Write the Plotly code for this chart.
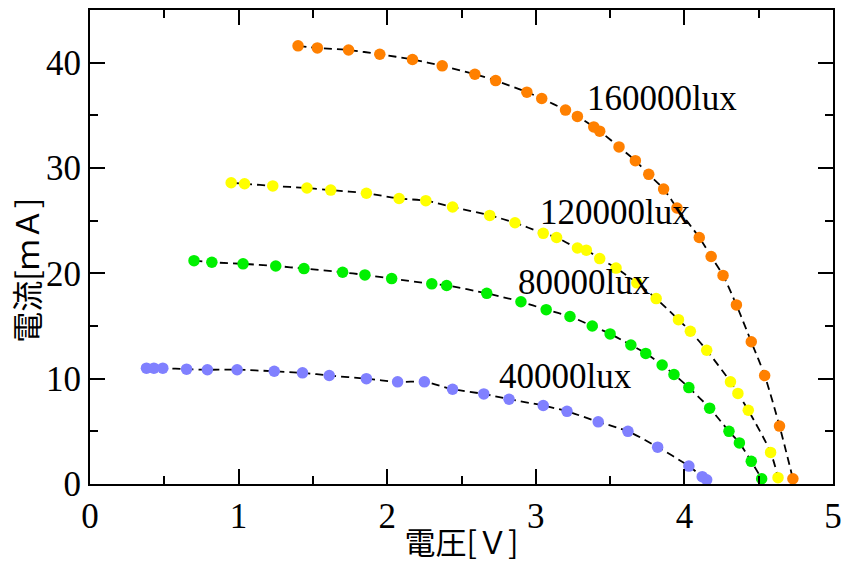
import plotly.graph_objects as go

# ---- data ----
v_160k = [1.40,1.53,1.74,1.95,2.17,2.37,2.59,2.73,2.94,3.04,3.20,3.28,3.39,3.43,3.56,3.67,3.76,3.86,3.95,4.10,4.18,4.26,4.35,4.45,4.54,4.64,4.73]
i_160k = [41.6,41.4,41.2,40.8,40.3,39.7,38.9,38.3,37.2,36.6,35.5,34.9,33.9,33.5,32.0,30.7,29.4,28.0,26.2,23.4,21.6,19.8,17.0,13.5,10.3,5.5,0.5]

v_120k = [0.95,1.04,1.23,1.46,1.62,1.86,2.08,2.26,2.44,2.69,2.86,3.05,3.14,3.28,3.34,3.43,3.54,3.68,3.81,3.96,4.04,4.15,4.31,4.36,4.43,4.58,4.63]
i_120k = [28.6,28.5,28.3,28.1,27.9,27.6,27.1,26.9,26.3,25.5,24.8,23.8,23.4,22.4,22.2,21.4,20.5,19.1,17.6,15.6,14.5,12.7,9.7,8.6,7.0,3.0,0.6]

v_80k = [0.70,0.82,1.03,1.25,1.44,1.70,1.85,2.03,2.30,2.40,2.67,2.90,3.07,3.23,3.38,3.50,3.64,3.74,3.85,3.93,4.03,4.17,4.30,4.37,4.45,4.52]
i_80k = [21.2,21.05,20.9,20.7,20.45,20.1,19.85,19.5,19.0,18.85,18.1,17.3,16.55,15.9,15.0,14.25,13.2,12.4,11.3,10.4,9.15,7.2,5.0,3.9,2.15,0.5]

v_40k = [0.38,0.43,0.49,0.65,0.79,0.99,1.24,1.43,1.61,1.86,2.07,2.25,2.44,2.65,2.82,3.05,3.21,3.42,3.62,3.82,4.03,4.12,4.15]
i_40k = [11.0,11.0,11.0,10.9,10.85,10.85,10.7,10.55,10.3,10.0,9.7,9.7,9.0,8.55,8.05,7.45,6.9,5.9,5.0,3.5,1.7,0.7,0.4]

series_names = ["160000lux", "120000lux", "80000lux", "40000lux"]
series_v = [v_160k, v_120k, v_80k, v_40k]
series_i = [i_160k, i_120k, i_80k, i_40k]
series_colors = ["#FF8000", "#FFFF00", "#00F000", "#8080FF"]
label_x = [3.85, 3.53, 3.33, 3.20]
label_y = [36.6, 25.8, 19.1, 10.2]

x_title = "電圧[Ｖ]"
y_title = "電流[ｍＡ]"

fig = go.Figure()

for v, i in zip(series_v, series_i):
    fig.add_trace(go.Scatter(x=v, y=i, mode="lines",
                             line=dict(color="black", width=1.8, dash="8px,5px", shape="spline", smoothing=0.8),
                             showlegend=False, hoverinfo="skip"))
for v, i, c in zip(series_v, series_i, series_colors):
    fig.add_trace(go.Scatter(x=v, y=i, mode="markers",
                             marker=dict(color=c, size=11.5, line=dict(width=0)),
                             showlegend=False))

for name, lx, ly in zip(series_names, label_x, label_y):
    fig.add_annotation(x=lx, y=ly, text=name, showarrow=False,
                       font=dict(family="Liberation Serif", size=35, color="black"))

# y-axis title as rotated text, placed slightly below the plot centre like the reference
fig.add_annotation(x=-0.086, xref="paper", y=0.45, yref="paper", text=y_title, textangle=-90,
                   showarrow=False, xanchor="center", yanchor="middle",
                   font=dict(family="Noto Sans CJK JP", size=31, color="black"))

axis_common = dict(showgrid=False, zeroline=False, showline=True, linecolor="black", linewidth=2,
                   mirror="ticks", ticks="inside", ticklen=15, tickwidth=1.5, tickcolor="black",
                   automargin=False,
                   tickfont=dict(family="Liberation Serif", size=35, color="black"))

fig.update_xaxes(range=[0, 5], dtick=1, title=dict(text=x_title, font=dict(family="Noto Sans CJK JP", size=31, color="black"), standoff=2),
                 minor=dict(dtick=0.5, ticks="inside", ticklen=8, tickwidth=1.5, tickcolor="black"),
                 **axis_common)
fig.update_yaxes(range=[0, 45], dtick=10,
                 minor=dict(dtick=5, ticks="inside", ticklen=8, tickwidth=1.5, tickcolor="black"),
                 **axis_common)

fig.update_layout(width=845, height=563, margin=dict(l=90, r=12, t=10, b=79),
                  plot_bgcolor="white", paper_bgcolor="white")

fig.write_html("out.html")
